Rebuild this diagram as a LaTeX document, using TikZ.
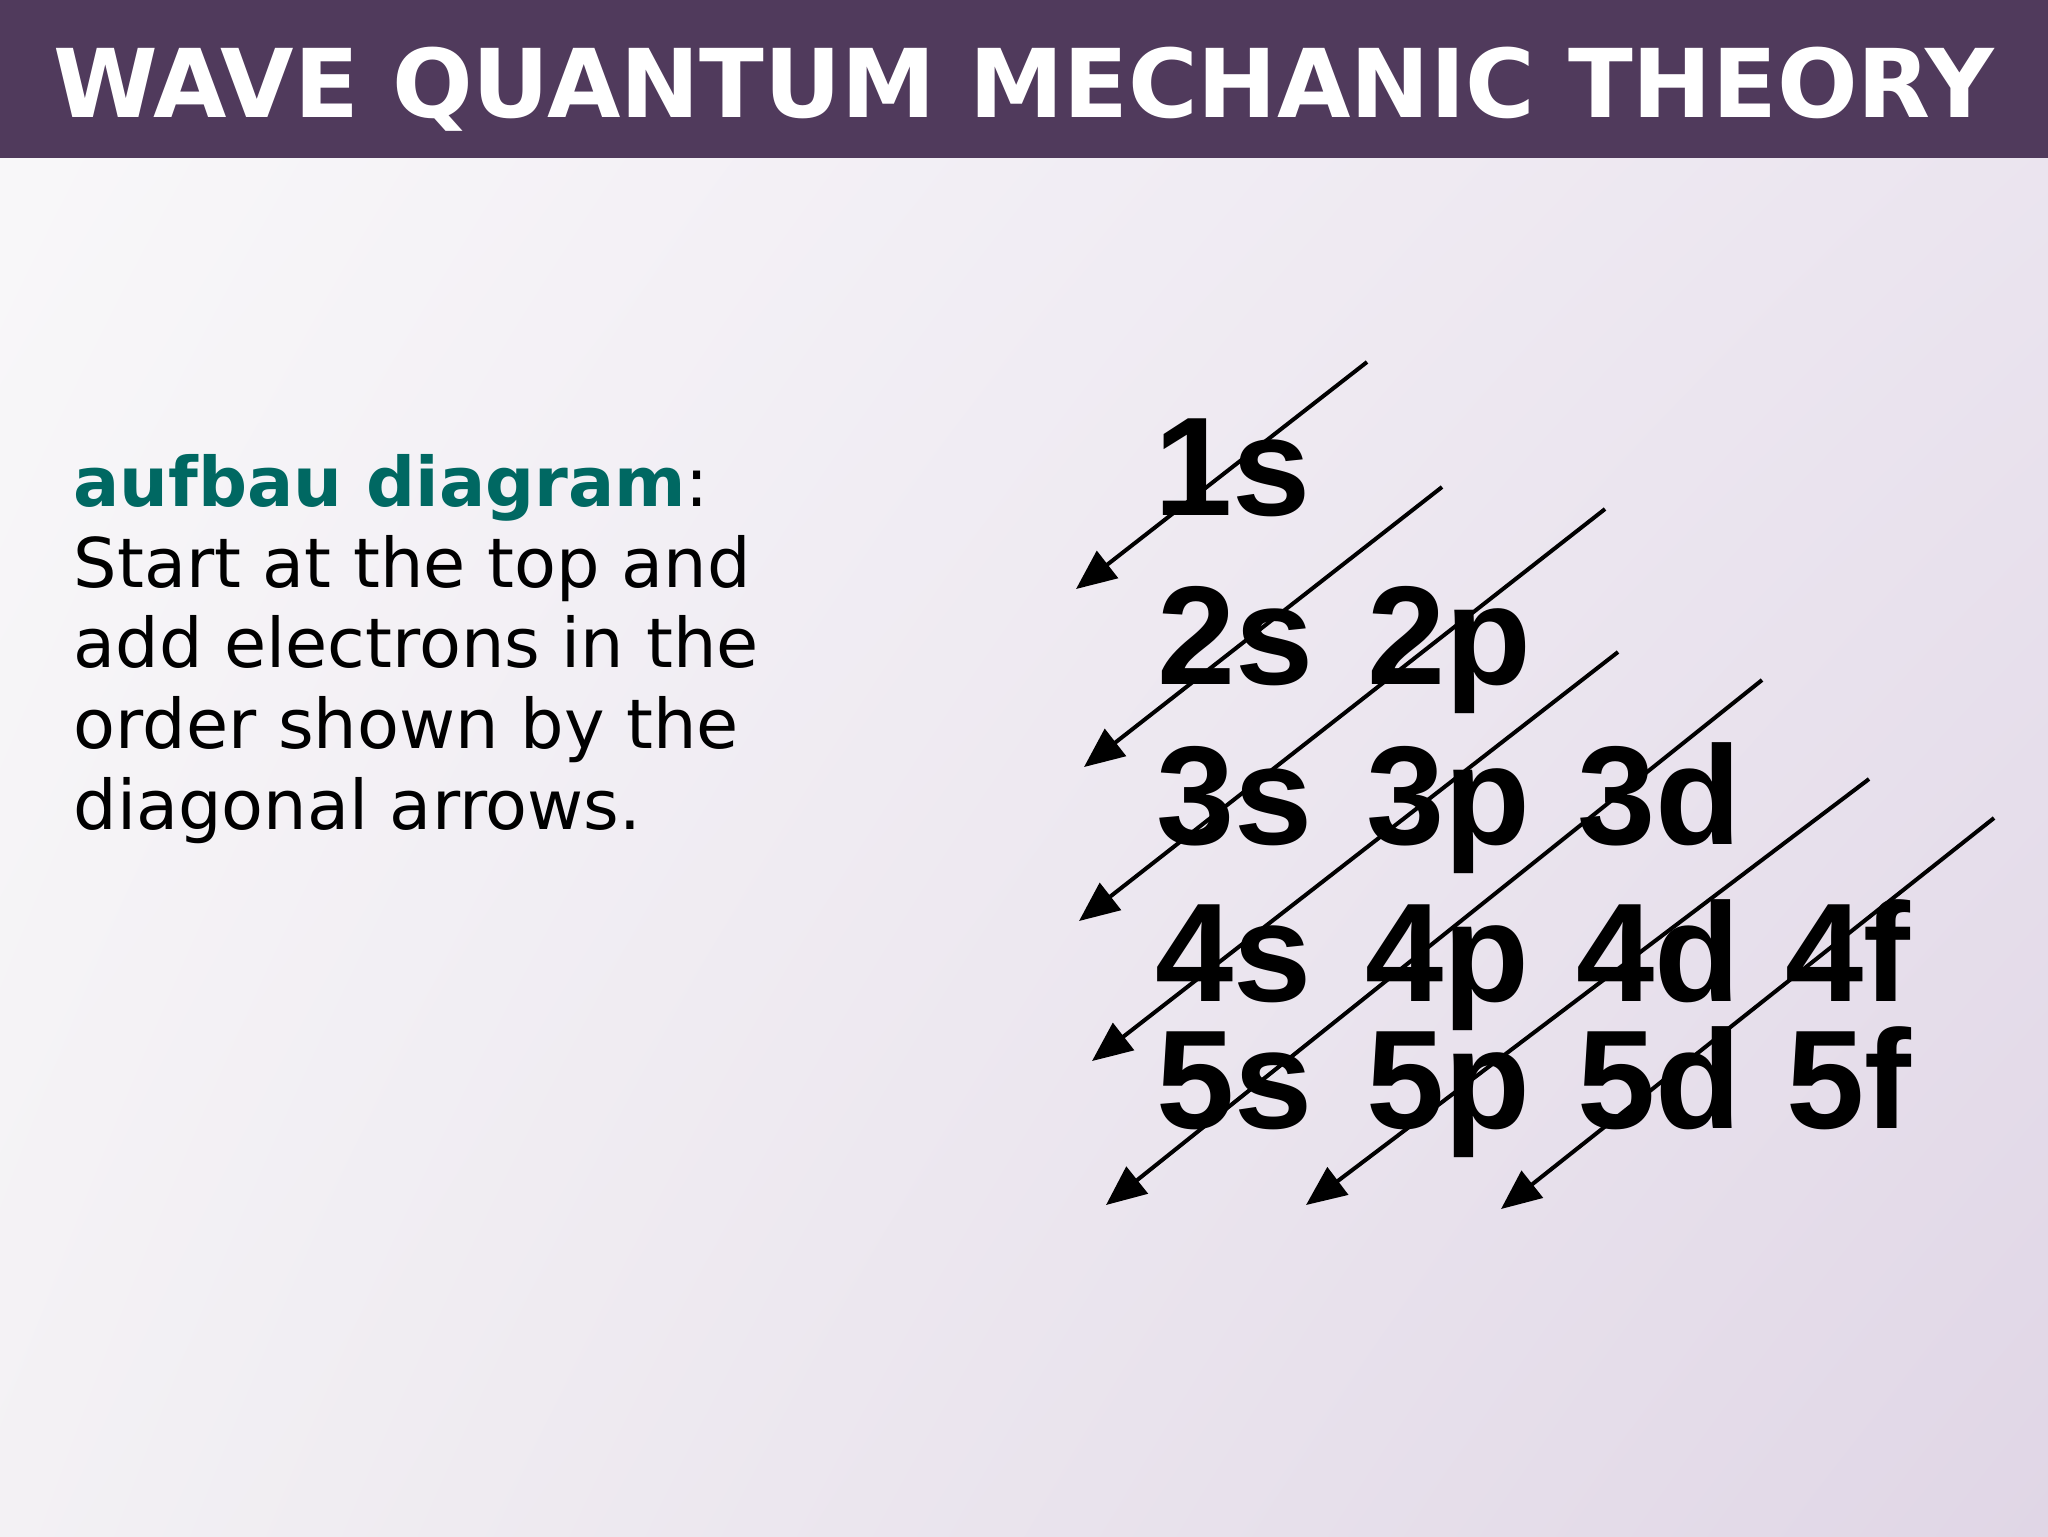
\documentclass[tikz,border=0pt]{standalone}
\usepackage{fontspec}
\setmainfont{DejaVu Sans}
\newfontfamily\orbfont{Liberation Sans}
\usetikzlibrary{arrows.meta,shadings}
\definecolor{barpurple}{RGB}{80,58,92}
\definecolor{keyteal}{RGB}{0,104,98}
\definecolor{bgtl}{RGB}{249,248,250}
\definecolor{bgtr}{RGB}{236,230,240}
\definecolor{bgbl}{RGB}{243,241,244}
\definecolor{bgbr}{RGB}{224,214,230}
\tikzset{
  orb/.style={anchor=base west,inner sep=0pt,font=\orbfont\bfseries\fontsize{40}{48}\selectfont},
  txt/.style={anchor=base west,inner sep=0pt,font=\fontsize{19.5}{24}\selectfont},
  diag/.style={-{Triangle[length=4mm,width=3.4mm]},line width=0.4mm}
}
\begin{document}
\begin{tikzpicture}[x=0.1mm,y=-0.1mm]
\useasboundingbox (0,0) rectangle (2048,1536);
\shade[upper left=bgtl,upper right=bgtr,lower left=bgbl,lower right=bgbr] (0,0) rectangle (2048,1536);
\fill[barpurple] (0,0) rectangle (2048,158);
\node[anchor=base,inner sep=0pt,text=white,font=\bfseries\fontsize{27}{32}\selectfont] (title) at (1024,117) {WAVE QUANTUM MECHANIC THEORY};

\node[txt] (key) at (73,506) {\textcolor{keyteal}{\bfseries aufbau diagram}:};
\node[txt] (ln1) at (73,587) {Start at the top and};
\node[txt] (ln2) at (73,667) {add electrons in the};
\node[txt] (ln3) at (73,748) {order shown by the};
\node[txt] (ln4) at (73,829) {diagonal arrows.};

\node[orb] (s1) at (1154,515) {1s};
\node[orb] (s2) at (1157,684) {2s};
\node[orb] (p2) at (1367,684) {2p};
\node[orb] (s3) at (1156,844) {3s};
\node[orb] (p3) at (1366,844) {3p};
\node[orb] (d3) at (1577,844) {3d};
\node[orb] (s4) at (1155,1001) {4s};
\node[orb] (p4) at (1365,1001) {4p};
\node[orb] (d4) at (1576,1001) {4d};
\node[orb] (f4) at (1785,1001) {4f};
\node[orb] (s5) at (1156,1128) {5s};
\node[orb] (p5) at (1366,1128) {5p};
\node[orb] (d5) at (1577,1128) {5d};
\node[orb] (f5) at (1786,1128) {5f};

\coordinate (t1) at (1367,362);  \coordinate (h1) at (1076,589);
\coordinate (t2) at (1442,487);  \coordinate (h2) at (1084,767);
\coordinate (t3) at (1605,509);  \coordinate (h3) at (1079,921);
\coordinate (t4) at (1618,652);  \coordinate (h4) at (1092,1061);
\coordinate (t5) at (1762,680);  \coordinate (h5) at (1106,1205);
\coordinate (t6) at (1869,779);  \coordinate (h6) at (1306,1205);
\coordinate (t7) at (1994,818);  \coordinate (h7) at (1501,1209);
\foreach \i in {1,...,7} {
  \draw[diag] (t\i) -- (h\i);
}
\end{tikzpicture}
\end{document}
